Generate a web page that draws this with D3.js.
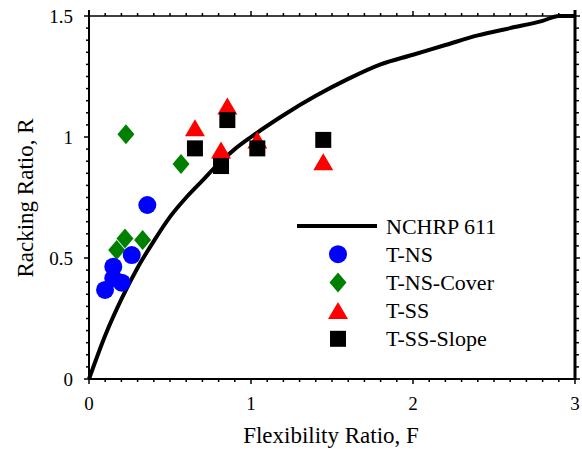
<!DOCTYPE html>
<html>
<head>
<meta charset="utf-8">
<script src="https://cdn.jsdelivr.net/npm/d3@7"></script>
<style>
  body { margin:0; background:#fff; }
</style>
</head>
<body>
<div id="chart"></div>
<script>
// NCHRP 611 curve
var ncF = [0,0.1,0.2,0.3,0.4,0.5,0.6,0.7,0.8,0.9,1.0,1.2,1.4,1.6,1.8,2.0,2.2,2.4,2.6,2.8,2.9,3.0];
var ncR = [0,0.18,0.33,0.46,0.57,0.67,0.75,0.82,0.89,0.95,1.0,1.09,1.17,1.24,1.30,1.34,1.38,1.42,1.45,1.48,1.50,1.50];

// test series
var tnsF = [0.099,0.15,0.202,0.15,0.264,0.36];
var tnsR = [0.368,0.416,0.398,0.464,0.512,0.719];
var coverF = [0.222,0.331,0.171,0.228,0.568];
var coverR = [0.581,0.574,0.533,1.011,0.888];
var tssF = [0.854,0.654,0.815,1.039,1.446];
var tssR = [1.128,1.038,0.946,0.988,0.898];
var slopeF = [0.854,0.654,0.815,1.039,1.446];
var slopeR = [1.07,0.953,0.88,0.953,0.988];

var xTicks = [0,1,2,3];
var yTicks = [0,0.5,1,1.5];
var legendLabels = ["NCHRP 611","T-NS","T-NS-Cover","T-SS","T-SS-Slope"];

var FONT = "'Liberation Serif', Tinos, 'Times New Roman', Times, 'Nimbus Roman', serif";
var W = 582, H = 451;
var svg = d3.select("#chart").append("svg").attr("width",W).attr("height",H)
  .attr("font-family",FONT);

var x = d3.scaleLinear().domain([0,3]).range([89,575]);
var y = d3.scaleLinear().domain([0,1.5]).range([379,16]);

//minor ticks
var xMinor = d3.range(0,31).map(function(i){return i/10});
var yMinor = d3.range(0,31).map(function(i){return i/20});

var ax = svg.append("g");
// bottom ticks
ax.selectAll("line.bt").data(xMinor).enter().append("line")
  .attr("x1",function(d){return x(d)}).attr("x2",function(d){return x(d)})
  .attr("y1",y(0)).attr("y2",function(d,i){return y(0)+(i%10==0?5:3)})
  .attr("stroke","#000").attr("stroke-width",1.5);
// top ticks
ax.selectAll("line.tt").data(xMinor).enter().append("line")
  .attr("x1",function(d){return x(d)}).attr("x2",function(d){return x(d)})
  .attr("y1",y(1.5)).attr("y2",function(d,i){return y(1.5)-(i%10==0?5:3)})
  .attr("stroke","#000").attr("stroke-width",1.5);
// left ticks
ax.selectAll("line.lt").data(yMinor).enter().append("line")
  .attr("y1",function(d){return y(d)}).attr("y2",function(d){return y(d)})
  .attr("x1",x(0)).attr("x2",function(d,i){return x(0)-(i%10==0?5:3)})
  .attr("stroke","#000").attr("stroke-width",1.5);
// right ticks
ax.selectAll("line.rt").data(yMinor).enter().append("line")
  .attr("y1",function(d){return y(d)}).attr("y2",function(d){return y(d)})
  .attr("x1",x(3)).attr("x2",function(d,i){return x(3)+(i%10==0?5:4)})
  .attr("stroke","#000").attr("stroke-width",1.5);

// frame
ax.append("line").attr("x1",x(0)).attr("x2",x(3)).attr("y1",y(1.5)).attr("y2",y(1.5)).attr("stroke","#000").attr("stroke-width",1.5);
ax.append("line").attr("x1",x(0)-1).attr("x2",x(3)+1).attr("y1",y(0)).attr("y2",y(0)).attr("stroke","#000").attr("stroke-width",2);
ax.append("line").attr("x1",x(0)).attr("x2",x(0)).attr("y1",y(0)).attr("y2",y(1.5)-6).attr("stroke","#000").attr("stroke-width",2);
ax.append("line").attr("x1",x(3)).attr("x2",x(3)).attr("y1",y(0)+1).attr("y2",y(1.5)-6).attr("stroke","#000").attr("stroke-width",3);

// tick labels
ax.selectAll("text.xl").data(xTicks).enter().append("text")
  .attr("font-family",FONT)
  .attr("x",function(d){return x(d)}).attr("y",410)
  .attr("text-anchor","middle").attr("font-size",19).text(function(d){return d});
ax.selectAll("text.yl").data(yTicks).enter().append("text")
  .attr("font-family",FONT)
  .attr("x",73).attr("y",function(d){return y(d)+7})
  .attr("text-anchor","end").attr("font-size",19).text(function(d){return d});

// axis titles
svg.append("text").attr("font-family",FONT).attr("x",331).attr("y",443).attr("text-anchor","middle")
  .attr("font-size",23).text("Flexibility Ratio, F");
svg.append("text").attr("font-family",FONT).attr("transform","translate(33,198) rotate(-90)").attr("text-anchor","middle")
  .attr("font-size",23).text("Racking Ratio, R");

// curve
var line = d3.line().curve(d3.curveMonotoneX).x(function(d){return x(d[0])}).y(function(d){return y(d[1])});
svg.append("path").datum(d3.zip(ncF,ncR)).attr("d",line)
  .attr("fill","none").attr("stroke","#000").attr("stroke-width",4).attr("stroke-linejoin","round");

function diamondPath(cx,cy){ return "M"+cx+","+(cy-10)+"L"+(cx+8.5)+","+cy+"L"+cx+","+(cy+10)+"L"+(cx-8.5)+","+cy+"Z"; }
function triPath(cx,cy){ return "M"+cx+","+(cy-8.5)+"L"+(cx+10)+","+(cy+8.5)+"L"+(cx-10)+","+(cy+8.5)+"Z"; }

var marks = svg.append("g");
marks.selectAll("path.cover").data(d3.zip(coverF,coverR)).enter().append("path")
  .attr("d",function(d){return diamondPath(x(d[0]),y(d[1]))}).attr("fill","#008000");
marks.selectAll("circle.tns").data(d3.zip(tnsF,tnsR)).enter().append("circle")
  .attr("cx",function(d){return x(d[0])}).attr("cy",function(d){return y(d[1])}).attr("r",9).attr("fill","#0000ff");
marks.selectAll("path.tss").data(d3.zip(tssF,tssR)).enter().append("path")
  .attr("d",function(d){return triPath(x(d[0]),y(d[1]))}).attr("fill","#ff0000");
marks.selectAll("rect.slope").data(d3.zip(slopeF,slopeR)).enter().append("rect")
  .attr("x",function(d){return x(d[0])-8}).attr("y",function(d){return y(d[1])-8})
  .attr("width",16).attr("height",16).attr("fill","#000");

// legend
var lg = svg.append("g");
var rowY = function(i){return 226+i*28.2};
var mx = 338;
lg.append("line").attr("x1",297).attr("x2",377).attr("y1",rowY(0)).attr("y2",rowY(0)).attr("stroke","#000").attr("stroke-width",4);
lg.append("circle").attr("cx",mx).attr("cy",rowY(1)).attr("r",9).attr("fill","#0000ff");
lg.append("path").attr("d",diamondPath(mx,rowY(2))).attr("fill","#008000");
lg.append("path").attr("d",triPath(mx,rowY(3))).attr("fill","#ff0000");
lg.append("rect").attr("x",mx-8).attr("y",rowY(4)-8).attr("width",16).attr("height",16).attr("fill","#000");
lg.selectAll("text").data(legendLabels).enter().append("text")
  .attr("font-family",FONT)
  .attr("x",386).attr("y",function(d,i){return rowY(i)+7.5})
  .attr("font-size",22).text(function(d){return d});
</script>
</body>
</html>
